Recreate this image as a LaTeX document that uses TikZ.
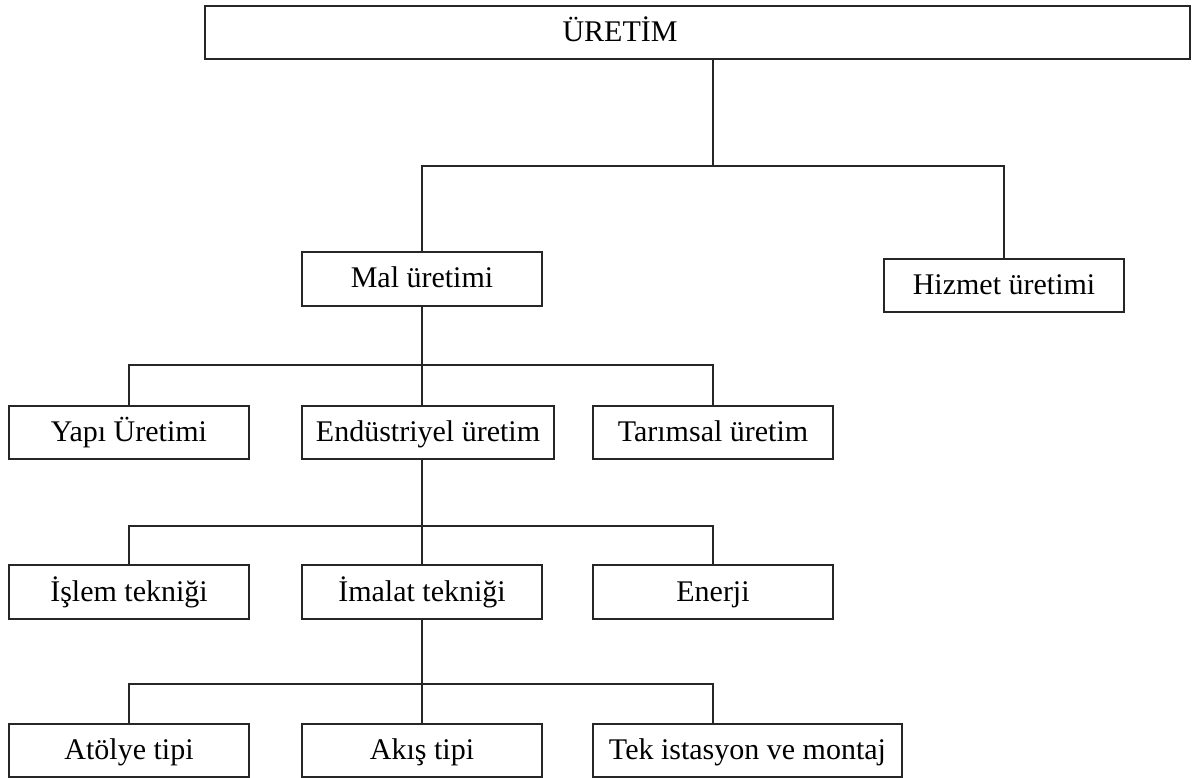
\documentclass[tikz,border=0pt]{standalone}
\usepackage{fontspec}
\setmainfont{Liberation Serif}
\begin{document}
\begin{tikzpicture}[x=1pt,y=-1pt,
  box/.style={draw=black!85, line width=1.6pt, minimum width=240pt, minimum height=53pt,
    inner sep=0pt, font=\fontsize{30}{36}\selectfont, text height=18pt, text depth=0pt},
  wire/.style={draw=black!85, line width=1.8pt}]
\useasboundingbox (0,0) rectangle (1195,778);

% top level
\node[box, minimum width=985pt] (uretim) at (697.5,32.5) {};
\node[font=\fontsize{30}{36}\selectfont, text height=18pt, text depth=0pt, inner sep=0pt] (uretimtxt) at (620,32.5) {ÜRETİM};

% second level
\node[box, minimum height=54pt] (mal) at (422,279) {Mal üretimi};
\node[box] (hizmet) at (1004,285.5) {Hizmet üretimi};

% third level
\node[box] (yapi) at (129,432.5) {Yapı Üretimi};
\node[box, minimum width=252pt] (endus) at (428,432.5) {Endüstriyel üretim};
\node[box] (tarim) at (713,432.5) {Tarımsal üretim};

% fourth level
\node[box, minimum height=54pt] (islem) at (129,592) {İşlem tekniği};
\node[box, minimum height=54pt] (imalat) at (422,592) {İmalat tekniği};
\node[box, minimum height=54pt] (enerji) at (713,592) {Enerji};

% fifth level
\node[box] (atolye) at (129,750.5) {Atölye tipi};
\node[box] (akis) at (422,750.5) {Akış tipi};
\node[box, minimum width=309pt] (tek) at (747.5,750.5) {Tek istasyon ve montaj};

% bus lines
\coordinate (bar1) at (713,166);
\coordinate (bar2) at (0,365);
\coordinate (bar3) at (0,526);
\coordinate (bar4) at (0,684);

% connectors
\draw[wire] (uretim.south -| bar1) -- (bar1);
\draw[wire] (mal.north) |- (hizmet.north |- bar1) -- (hizmet.north);

\draw[wire] (mal.south) -- (mal.south |- endus.north);
\draw[wire] (yapi.north) |- (tarim.north |- bar2) -- (tarim.north);

\draw[wire] (imalat.north |- endus.south) -- (imalat.north);
\draw[wire] (islem.north) |- (enerji.north |- bar3) -- (enerji.north);

\draw[wire] (imalat.south) -- (akis.north);
\draw[wire] (atolye.north) |- (enerji.south |- bar4) -- (enerji.south |- tek.north);
\end{tikzpicture}
\end{document}
